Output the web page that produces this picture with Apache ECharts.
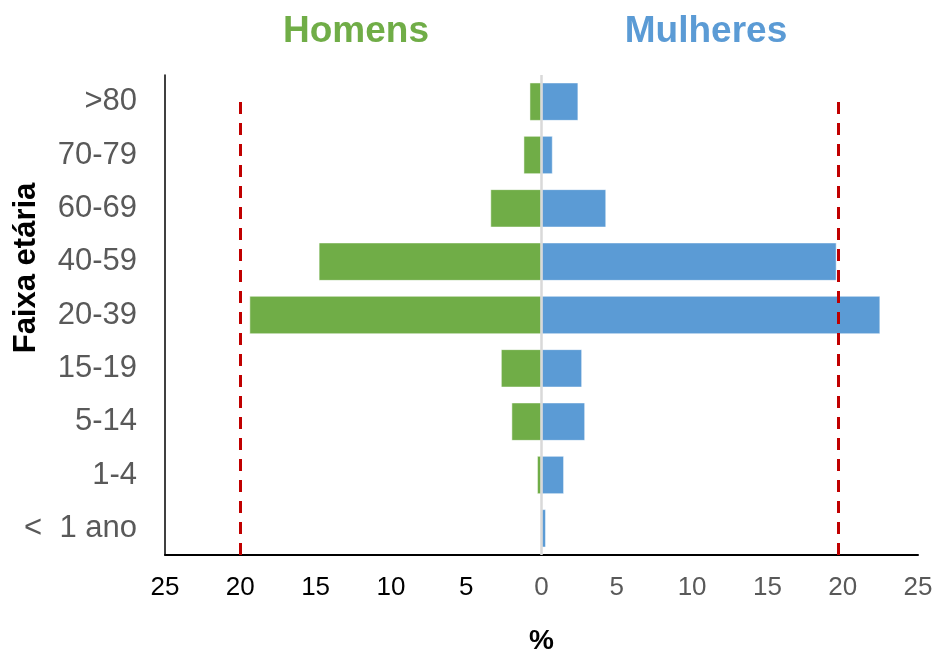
<!DOCTYPE html>
<html>
<head>
<meta charset="utf-8">
<script src="https://cdn.jsdelivr.net/npm/echarts@6/dist/echarts.min.js"></script>
<style>
  html, body { margin: 0; padding: 0; background: #fff; }
  #chart { width: 934px; height: 651px; }
</style>
</head>
<body>
<div id="chart"></div>
<script>
const categories = ['<  1 ano', '1-4', '5-14', '15-19', '20-39', '40-59', '60-69', '70-79', '>80']
// percentages, men are drawn to the left
const homens = [0, 0.3, 2.0, 2.7, 19.4, 14.8, 3.4, 1.2, 0.8]
const mulheres = [0.3, 1.5, 2.9, 2.7, 22.5, 19.6, 4.3, 0.75, 2.45]
const refLines = [-20, 19.7]
const xTicks = { min: -25, max: 25, step: 5 }

const chart = echarts.init(document.getElementById('chart'))
const font = 'Liberation Sans, Arial, sans-serif'

chart.setOption({
  animation: false,
  title: [
    { text: 'Homens', left: 351, top: 8, textAlign: 'center',
      textStyle: { color: '#70ad47', fontSize: 37, fontWeight: 'bold', fontFamily: font } },
    { text: 'Mulheres', left: 701, top: 8, textAlign: 'center',
      textStyle: { color: '#5b9bd5', fontSize: 37, fontWeight: 'bold', fontFamily: font } }
  ],
  graphic: [
    {
      type: 'text', x: 26, y: 268, rotation: Math.PI / 2,
      style: { text: 'Faixa etária', fill: '#000', font: 'bold 31px ' + font,
        textAlign: 'center', textVerticalAlign: 'middle' }
    }
  ],
  grid: { left: 165, right: 16, top: 75, bottom: 96, outerBoundsMode: 'none', containLabel: false },
  xAxis: {
    type: 'value',
    min: xTicks.min, max: xTicks.max, interval: xTicks.step,
    name: '%', nameLocation: 'middle', nameGap: 72,
    nameTextStyle: { color: '#000', fontSize: 28, fontWeight: 'bold', fontFamily: font },
    axisLine: { show: true, onZero: false, lineStyle: { color: '#000', width: 2 } },
    axisTick: { show: false },
    splitLine: { show: false },
    axisLabel: {
      margin: 20, fontSize: 26, fontFamily: font,
      formatter: v => Math.abs(v),
      color: v => (v < 0 ? '#000' : '#595959')
    }
  },
  yAxis: [
    {
      type: 'category',
      data: categories,
      axisLine: { show: true, onZero: false, lineStyle: { color: '#000', width: 1.5 } },
      axisTick: { show: false },
      axisLabel: { margin: 28, fontSize: 31, color: '#595959', fontFamily: font }
    },
    // hidden helper axis, only used to place the red reference lines
    { type: 'value', min: 0, max: 100, show: false }
  ],
  series: [
    {
      name: 'Homens', type: 'bar',
      data: homens.map(v => -v),
      barGap: '-100%', barCategoryGap: '28%',
      itemStyle: { color: '#70ad47', borderColor: 'rgba(255,255,255,0.5)', borderWidth: 1 },
      markLine: {
        silent: true, symbol: 'none', label: { show: false },
        data: [{ xAxis: 0, lineStyle: { color: '#d9d9d9', type: 'solid', width: 2.5 } }]
      }
    },
    {
      name: 'Mulheres', type: 'bar',
      data: mulheres,
      barGap: '-100%', barCategoryGap: '28%',
      itemStyle: { color: '#5b9bd5', borderColor: 'rgba(255,255,255,0.5)', borderWidth: 1 }
    },
    {
      name: 'ref', type: 'line', yAxisIndex: 1, data: [],
      markLine: {
        silent: true, symbol: 'none', label: { show: false },
        lineStyle: { color: '#c00000', type: [12, 9], width: 3 },
        data: refLines.map(v => [{ coord: [v, 0] }, { coord: [v, 95.8] }])
      }
    }
  ]
})
</script>
</body>
</html>
